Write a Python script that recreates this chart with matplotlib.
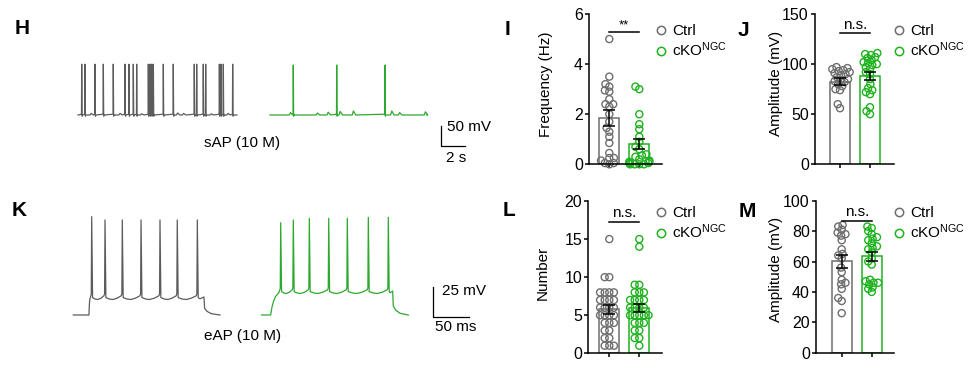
import numpy as np
import matplotlib.pyplot as plt
from matplotlib.lines import Line2D

plt.rcParams['font.family'] = ['Liberation Sans', 'DejaVu Sans']
plt.rcParams['mathtext.fontset'] = 'custom'
plt.rcParams['mathtext.rm'] = 'Liberation Sans'
plt.rcParams['mathtext.it'] = 'Liberation Sans:italic'

GRAY = '#6e6e6e'
GREEN = '#1fb21f'
TRACE_GRAY = '#5c5c5c'
TRACE_GREEN = '#2ea82e'
FS = 11

# ---- sAP traces (time in s, voltage in mV) ----
sap_rest = -60
sap_ctrl_start, sap_ctrl_end = 1.5, 14.75
sap_ctrl_spikes = [1.81, 2.08, 2.92, 3.61, 4.44, 5.42, 5.75, 6.11, 6.39, 7.36, 7.5, 7.64,
                   7.78, 8.61, 9.44, 11.19, 11.39, 11.94, 12.14, 13.28, 13.42, 13.61, 14.39]
sap_ctrl_peak = 67
sap_ctrl_bumps = [2.6, 5.0, 6.8, 9.8, 10.3, 12.6, 14.0]
sap_ctrl_bump_amp = [4, 4, 3, 5, 4, 3, 4]

sap_ko_start, sap_ko_end = 17.5, 30.56
sap_ko_spikes = [19.44, 23.06, 27.08]
sap_ko_peak = 65
sap_ko_bumps = [19.2, 21.45, 22.35, 23.35, 24.45, 27.65, 28.3, 30.45]
sap_ko_bump_amp = [6, 5, 7, 9, 10, 10, 6, 8]

# ---- eAP traces (time in ms, voltage in mV) ----
eap_rest = -70
eap_ctrl_times = [18.2, 39.6, 196.7, 218.6]      # start, step on, step off, end
eap_ctrl_plateau = -54.5
eap_ctrl_rise = 1.5
eap_ctrl_spikes = [43.3, 61.5, 85.1, 110.7, 136.6, 160.2, 187.6]
eap_ctrl_peaks = [11.9, 9.2, 9.2, 9.2, 9.2, 9.2, 9.2]

eap_ko_times = [275.5, 287.8, 454.5, 475.8]
eap_ko_plateau = -49.5
eap_ko_rise = 11.0
eap_ko_spikes = [301.5, 318.7, 340.6, 367.1, 392.5, 421.2, 448.5]
eap_ko_peaks = [6.9, 9.2, 10.6, 10.6, 10.6, 11.4, 11.4]

# ---- summary data ----
freq_ctrl = [5.0, 3.5, 3.2, 3.1, 2.95, 2.9, 2.6, 2.4, 2.4, 2.3, 2.0, 1.7, 1.45, 1.3,
             1.1, 0.85, 0.45, 0.25, 0.25, 0.15, 0.05, 0.05, 0.0]
freq_ko = [3.1, 3.0, 2.0, 1.6, 1.4, 1.1, 0.9, 0.7, 0.6, 0.4, 0.35, 0.3, 0.2, 0.15,
           0.1, 0.1, 0.05, 0.05, 0.0, 0.0, 0.0, 0.0]
freq_mean = [1.84, 0.80]
freq_sem = [0.33, 0.20]

samp_ctrl = [97, 96, 95, 94, 93, 92, 91, 90, 89, 87, 85, 84, 83, 82, 80, 78, 75, 74, 60, 56]
samp_ko = [111, 110, 109, 107, 106, 104, 102, 101, 100, 99, 97, 95, 92, 90, 85, 80,
           76, 74, 72, 70, 57, 53, 50]
samp_mean = [82.5, 88.3]
samp_sem = [3.3, 3.8]

num_ctrl = [15, 10, 10, 8, 8, 8, 8, 7, 7, 7, 7, 6, 6, 6, 6, 5, 5, 5, 5, 4, 4, 4,
            3, 3, 2, 2, 1, 1, 1]
num_ko = [15, 14, 9, 9, 8, 8, 8, 7, 7, 7, 7, 6, 6, 6, 6, 5, 5, 5, 5, 5, 4, 4, 4,
          3, 3, 2, 2, 1]
num_mean = [5.8, 5.95]
num_sem = [0.6, 0.55]

eamp_ctrl = [84, 83, 81, 79, 78, 77, 74, 68, 65, 64, 62, 56, 53, 48, 46, 45, 42, 36, 34, 26]
eamp_ko = [83, 82, 80, 78, 76, 75, 74, 72, 70, 69, 68, 66, 62, 60, 58, 48, 47, 46, 46,
           45, 43, 42, 40]
eamp_mean = [60.1, 63.3]
eamp_sem = [4.2, 3.1]

group_labels = ['Ctrl', 'cKO$^{\\rm NGC}$']

W, H = 980, 371
fig = plt.figure(figsize=(W / 100, H / 100), dpi=100)


def box(l, t, r, b):
    return [l / W, 1 - b / H, (r - l) / W, (b - t) / H]


def sap_trace(start, end, rest, spikes, peak, bumps, amps):
    ev = sorted([(t, 's', peak) for t in spikes] + [(t, 'b', a) for t, a in zip(bumps, amps)])
    ts, vs = [start], [rest]
    for t, kind, h in ev:
        if kind == 's':
            ts += [t - 0.02, t, t + 0.03, t + 0.08]
            vs += [rest + 2, h, rest - 3, rest]
        else:
            ts += [t - 0.1, t, t + 0.2]
            vs += [rest, rest + h, rest]
    ts.append(end)
    vs.append(rest)
    return ts, vs


def eap_trace(times, rest, plateau, rise, spikes, peaks):
    start, on, off, end = times
    amp = plateau - rest
    ts, vs = [start, on], [rest, rest]
    for f, k in [(0.15, 0.3), (0.35, 0.55), (0.6, 0.75), (1.0, 0.9)]:
        t = on + rise * f
        if t < spikes[0] - 0.6:
            ts.append(t)
            vs.append(rest + amp * k)
    ts.append(spikes[0] - 0.6)
    vs.append(plateau + 1.5)
    for i, (s, p) in enumerate(zip(spikes, peaks)):
        ts += [s, s + 1.2]
        vs += [p, plateau - 1]
        if i + 1 < len(spikes):
            nxt = spikes[i + 1]
            isi = nxt - s
            ts += [s + 0.25 * isi, s + 0.45 * isi, s + 0.7 * isi, nxt - 1.5, nxt - 0.6]
            vs += [plateau - 2.2, plateau - 2.6, plateau - 1.5, plateau + 0.5, plateau + 2]
        else:
            gap = off - s
            ts += [s + 0.4 * gap, off]
            vs += [plateau - 2, plateau - 0.5]
    ts += [off + 0.8, off + 4, off + 10, end]
    vs += [rest + 0.37 * amp, rest + 0.2 * amp, rest + 0.07 * amp, rest]
    return ts, vs


# ---- top traces ----
ax = fig.add_axes(box(60, 40, 490, 170))
ax.set_xlim(0, 430 / 12)
ax.set_ylim(-197.5, 127.5)
ax.axis('off')
t, v = sap_trace(sap_ctrl_start, sap_ctrl_end, sap_rest, sap_ctrl_spikes, sap_ctrl_peak,
                 sap_ctrl_bumps, sap_ctrl_bump_amp)
ax.plot(t, v, color=TRACE_GRAY, lw=0.9)
t, v = sap_trace(sap_ko_start, sap_ko_end, sap_rest, sap_ko_spikes, sap_ko_peak,
                 sap_ko_bumps, sap_ko_bump_amp)
ax.plot(t, v, color=TRACE_GREEN, lw=0.9)
ax.plot([31.75, 31.75, 33.75], [-87.5, -137.5, -137.5], color='black', lw=0.9)
ax.text(32.27, -90, '50 mV', ha='left', va='center', fontsize=FS)
ax.text(33.0, -167.5, '2 s', ha='center', va='center', fontsize=FS)
ax.text(15.14, -131, 'sAP (10 M)', ha='center', va='center', fontsize=FS)

# ---- bottom traces ----
ax = fig.add_axes(box(60, 200, 500, 345))
ax.set_xlim(0, 440 / 0.732)
ax.set_ylim(-95, 25.8)
ax.axis('off')
t, v = eap_trace(eap_ctrl_times, eap_rest, eap_ctrl_plateau, eap_ctrl_rise,
                 eap_ctrl_spikes, eap_ctrl_peaks)
ax.plot(t, v, color=TRACE_GRAY, lw=0.9)
t, v = eap_trace(eap_ko_times, eap_rest, eap_ko_plateau, eap_ko_rise,
                 eap_ko_spikes, eap_ko_peaks)
ax.plot(t, v, color=TRACE_GREEN, lw=0.9)
ax.plot([509, 509, 559], [-46.7, -71.7, -71.7], color='black', lw=0.9)
ax.text(521.4, -49.6, '25 mV', ha='left', va='center', fontsize=FS)
ax.text(540.8, -80.4, '50 ms', ha='center', va='center', fontsize=FS)
ax.text(249.3, -87.5, 'eAP (10 M)', ha='center', va='center', fontsize=FS)


# ---- bar + scatter panels ----
def swarm(values, ppu_y, d=4.6, lim=10.0):
    vals = np.asarray(values, float) * ppu_y
    offs = np.zeros(len(vals))
    placed = []
    for i in np.argsort(vals):
        y = vals[i]
        cands = [0.0]
        for (px, py) in placed:
            dy = y - py
            if abs(dy) < d:
                dx = np.sqrt(d * d - dy * dy)
                cands += [px + dx, px - dx]
        cands.sort(key=lambda c: (abs(c), c))
        for c in cands:
            if all((c - px) ** 2 + (y - py) ** 2 >= d * d - 1e-6 for px, py in placed):
                offs[i] = np.clip(c, -lim, lim)
                placed.append((c, y))
                break
    return offs


def bar_panel(rect, xlim, ylim, yticks, ctrl, ko, means, sems, sig, sig_y, leg_xy):
    ax = fig.add_axes(box(*rect))
    l, t, r, b = rect
    ppu_y = (b - t) / (ylim[1] - ylim[0])
    ppu_x = (r - l) / (xlim[1] - xlim[0])
    for k, (vals, col) in enumerate([(ctrl, GRAY), (ko, GREEN)]):
        ax.bar(k, means[k], width=20 / ppu_x, facecolor='none', edgecolor=col,
               linewidth=1.1, zorder=1)
        ax.scatter(k + swarm(vals, ppu_y) / ppu_x, vals, s=26, facecolors='none',
                   edgecolors=col, linewidths=1.0, zorder=2, clip_on=False)
        ax.errorbar(k, means[k], yerr=sems[k], color='black', capsize=4, elinewidth=1.1,
                    capthick=1.1, zorder=3)
    ax.plot([0, 1], [sig_y, sig_y], color='black', lw=1.1)
    if sig == '**':
        ax.annotate(sig, (0.5, sig_y), xytext=(0, 0), textcoords='offset points',
                    ha='center', va='bottom', fontsize=9.5)
    else:
        ax.annotate(sig, (0.5, sig_y), xytext=(0, 1), textcoords='offset points',
                    ha='center', va='bottom', fontsize=FS)
    ax.set_xlim(*xlim)
    ax.set_ylim(*ylim)
    ax.set_yticks(yticks)
    ax.set_xticks([0, 1])
    ax.set_xticklabels([])
    for s in ['top', 'right']:
        ax.spines[s].set_visible(False)
    for s in ['left', 'bottom']:
        ax.spines[s].set_linewidth(1.1)
    ax.tick_params(length=3, width=1.1, pad=1.5, labelsize=11.5)
    handles = [Line2D([], [], marker='o', ls='none', mfc='none', mec=c, mew=1.1, ms=6)
               for c in (GRAY, GREEN)]
    ax.legend(handles, group_labels, loc='upper left', bbox_to_anchor=(leg_xy[0] / W, 1 - leg_xy[1] / H),
              bbox_transform=fig.transFigure, frameon=False, handlelength=0.75,
              handletextpad=0.35, borderaxespad=0, borderpad=0, labelspacing=0.15, fontsize=FS)
    return ax


bar_panel((589.3, 14, 661.7, 164.3), (-0.667, 1.747), (0, 6), [0, 2, 4, 6],
          freq_ctrl, freq_ko, freq_mean, freq_sem, '**', 5.3, (655.2, 24))
bar_panel((815, 14, 894, 164.3), (-0.833, 1.8), (0, 150), [0, 50, 100, 150],
          samp_ctrl, samp_ko, samp_mean, samp_sem, 'n.s.', 131, (893.2, 24))
bar_panel((588.3, 201, 661.7, 353.3), (-0.7, 1.747), (0, 20), [0, 5, 10, 15, 20],
          num_ctrl, num_ko, num_mean, num_sem, 'n.s.', 17.3, (655.2, 206))
bar_panel((816, 200.7, 894, 352.7), (-0.857, 1.743), (0, 100), [0, 20, 40, 60, 80, 100],
          eamp_ctrl, eamp_ko, eamp_mean, eamp_sem, 'n.s.', 86.8, (893.2, 206))

for txt, x, y in [('Frequency (Hz)', 546, 84.5), ('Amplitude (mV)', 776, 83.5),
                  ('Number', 542.5, 272.5), ('Amplitude (mV)', 776, 269)]:
    fig.text(x / W, 1 - y / H, txt, rotation=90, ha='center', va='center', fontsize=FS)

for txt, x, y in [('H', 22, 28), ('K', 19.5, 210), ('I', 507.5, 29.5), ('J', 743.5, 30),
                  ('L', 509, 210.5), ('M', 747.5, 211.5)]:
    fig.text(x / W, 1 - y / H, txt, ha='center', va='center', fontsize=15, fontweight='bold')

fig.savefig('out.png', dpi=100)
